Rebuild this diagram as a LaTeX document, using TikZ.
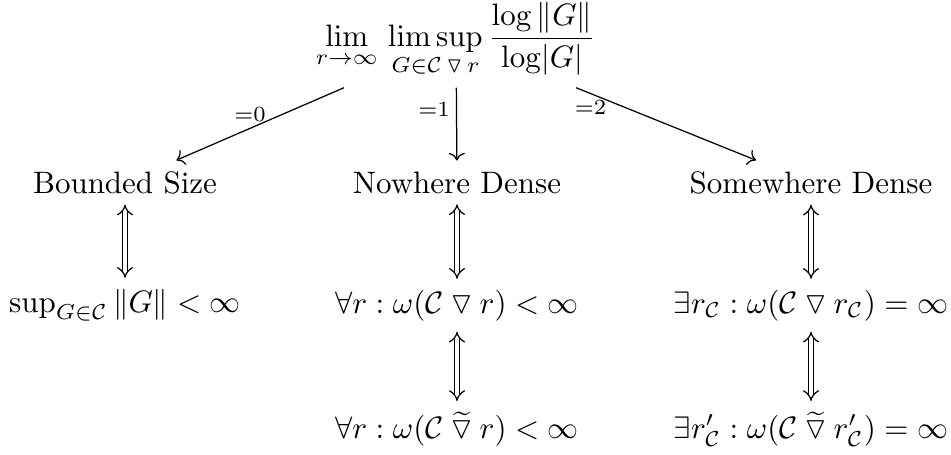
\documentclass[tikz,border=0pt]{standalone}
\usepackage{amsmath,amssymb}
\usetikzlibrary{arrows.meta}
\newcommand{\tdn}{\mathbin{\triangledown}}
\newcommand{\ttdn}{\mathbin{\widetilde{\triangledown}}}
\begin{document}
\begin{tikzpicture}[x=0.32258pt,y=-0.32258pt,
  txt/.style={anchor=base},
  lab/.style={inner sep=2pt},
  eqv/.style={double, double distance=1.4pt, {Implies}-{Implies}},
  imp/.style={->}]
\useasboundingbox (0,0) rectangle (951,454);
\node[txt] (top) at (456,46) {$\displaystyle \lim_{r\to\infty}\,\limsup_{G\in\mathcal{C}\,\triangledown\, r}\frac{\log\|G\|}{\log\lvert G\rvert}$};
\node[txt] (bs) at (125,193) {Bounded Size};
\node[txt] (nd) at (457,193) {Nowhere Dense};
\node[txt] (sd) at (811,193) {Somewhere Dense};
\node[txt] (c1) at (125,312) {$\sup_{G\in\mathcal{C}}\|G\| < \infty$};
\node[txt] (c2) at (457,313) {$\forall r : \omega(\mathcal{C} \tdn r) < \infty$};
\node[txt] (c3) at (811,313) {$\exists r_{\mathcal{C}} : \omega(\mathcal{C} \tdn r_{\mathcal{C}}) = \infty$};
\node[txt] (d2) at (457,438) {$\forall r : \omega(\mathcal{C} \ttdn r) < \infty$};
\node[txt] (d3) at (811,438) {$\exists r'_{\mathcal{C}} : \omega(\mathcal{C} \ttdn r'_{\mathcal{C}}) = \infty$};
\draw[imp] (top) -- node[pos=0.56, above, lab] {$\scriptstyle =0$} (bs);
\draw[imp] (top) -- node[pos=0.3, left, lab] {$\scriptstyle =1$} (nd);
\draw[imp] (top) -- node[pos=0.08, below, lab] {$\scriptstyle =2$} (sd);
\draw[eqv] (bs) -- (c1);
\draw[eqv] (nd) -- (c2);
\draw[eqv] (sd) -- (c3);
\draw[eqv] (c2) -- (d2);
\draw[eqv] (c3) -- (d3);
\end{tikzpicture}
\end{document}
